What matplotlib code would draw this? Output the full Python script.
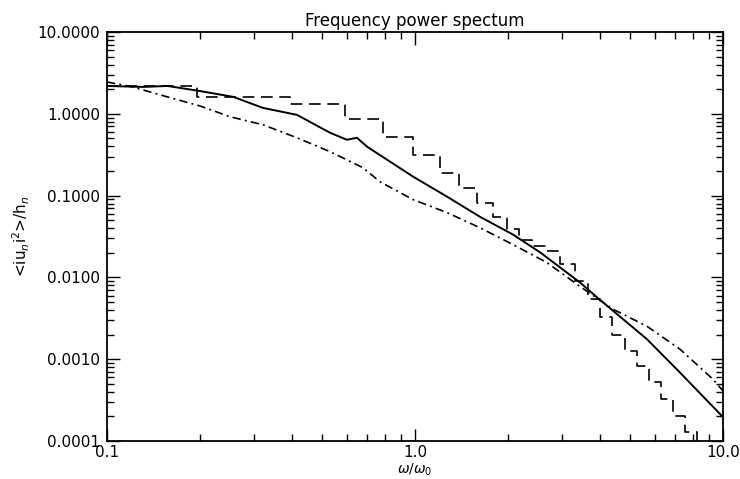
import numpy as np
import matplotlib
matplotlib.use('Agg')
import matplotlib.pyplot as plt
from matplotlib.ticker import FixedLocator, LogLocator, NullFormatter

plt.rcParams['font.family'] = ['DejaVu Sans']

# solid curve
solid_x = [0.100, 0.131, 0.157, 0.200, 0.257, 0.321, 0.414, 0.530, 0.601, 0.648,
           0.699, 0.811, 0.985, 1.27, 1.62, 2.08, 2.55, 3.43, 3.90, 5.67, 7.24, 10.0]
solid_y = [2.19, 2.13, 2.19, 1.90, 1.61, 1.18, 0.97, 0.586, 0.482, 0.509,
           0.396, 0.275, 0.171, 0.0972, 0.0555, 0.0334, 0.0202, 0.00869, 0.00570,
           0.00175, 0.00069, 0.000196]

# dash-dot curve
dd_x = [0.100, 0.121, 0.157, 0.200, 0.251, 0.321, 0.414, 0.530, 0.678, 0.769,
        0.985, 1.27, 1.62, 2.08, 2.68, 3.43, 4.40, 5.67, 7.24, 9.27, 10.0]
dd_y = [2.45, 2.13, 1.61, 1.25, 0.92, 0.734, 0.509, 0.344, 0.219, 0.148,
        0.0894, 0.062, 0.0407, 0.0252, 0.0152, 0.00777, 0.00407, 0.00252,
        0.00133, 0.00057, 0.00041]

# dashed step curve (step starts and levels)
step_x = [0.100, 0.196, 0.393, 0.593, 0.787, 0.985, 1.205, 1.39, 1.59, 1.79,
          1.99, 2.18, 2.40, 2.64, 2.96, 3.31, 3.65, 3.99, 4.37, 4.81, 5.26,
          5.76, 6.30, 6.89, 7.54, 8.24]
step_y = [2.19, 1.61, 1.32, 0.87, 0.525, 0.316, 0.19, 0.125, 0.082, 0.054,
          0.0386, 0.0283, 0.0245, 0.0208, 0.0144, 0.00894, 0.0054, 0.00325,
          0.00196, 0.00125, 0.00082, 0.00052, 0.000325, 0.000202, 0.000129,
          0.0000798]

ytick_vals = [0.0001, 0.001, 0.01, 0.1, 1.0, 10.0]
ytick_labels = ['0.0001', '0.0010', '0.0100', '0.1000', '1.0000', '10.0000']
xtick_vals = [0.1, 1.0, 10.0]
xtick_labels = ['0.1', '1.0', '10.0']

fig = plt.figure(figsize=(7.4, 4.79), dpi=100)
ax = fig.add_axes([107/740, 1-441/479, (723-107)/740, (441-32)/479])

ax.plot(solid_x, solid_y, color='black', lw=1.4)
ax.plot(dd_x, dd_y, color='black', lw=1.2, dashes=(5, 2.5, 1.2, 2.5))
ax.plot(step_x, step_y, color='black', lw=1.2, drawstyle='steps-post',
        dashes=(7, 4))

ax.set_xscale('log')
ax.set_yscale('log')
ax.set_xlim(0.1, 10.0)
ax.set_ylim(0.0001, 10.0)

ax.xaxis.set_major_locator(FixedLocator(xtick_vals))
ax.set_xticklabels(xtick_labels)
ax.xaxis.set_minor_locator(LogLocator(base=10, subs=np.arange(2, 10)))
ax.xaxis.set_minor_formatter(NullFormatter())
ax.yaxis.set_major_locator(FixedLocator(ytick_vals))
ax.set_yticklabels(ytick_labels)
ax.yaxis.set_minor_locator(LogLocator(base=10, subs=np.arange(2, 10)))
ax.yaxis.set_minor_formatter(NullFormatter())

ax.tick_params(which='both', direction='in', top=True, right=True,
               labelsize=11, colors='black')
ax.tick_params(which='major', length=9, width=1.0, pad=5)
ax.tick_params(axis='x', which='major', pad=3)
ax.tick_params(which='minor', length=5, width=1.0)
for s in ax.spines.values():
    s.set_linewidth(1.3)

ax.set_title('Frequency power spectum', fontsize=12, pad=4)
ax.set_ylabel('<iu$_n$i$^2$>/h$_n$', fontsize=11, labelpad=4)
# x label squeezed against the bottom edge
fig.text(415/740, 0.5/479, r'$\omega/\omega_0$', fontsize=10,
         ha='center', va='bottom')

fig.savefig('out.png', dpi=100)
